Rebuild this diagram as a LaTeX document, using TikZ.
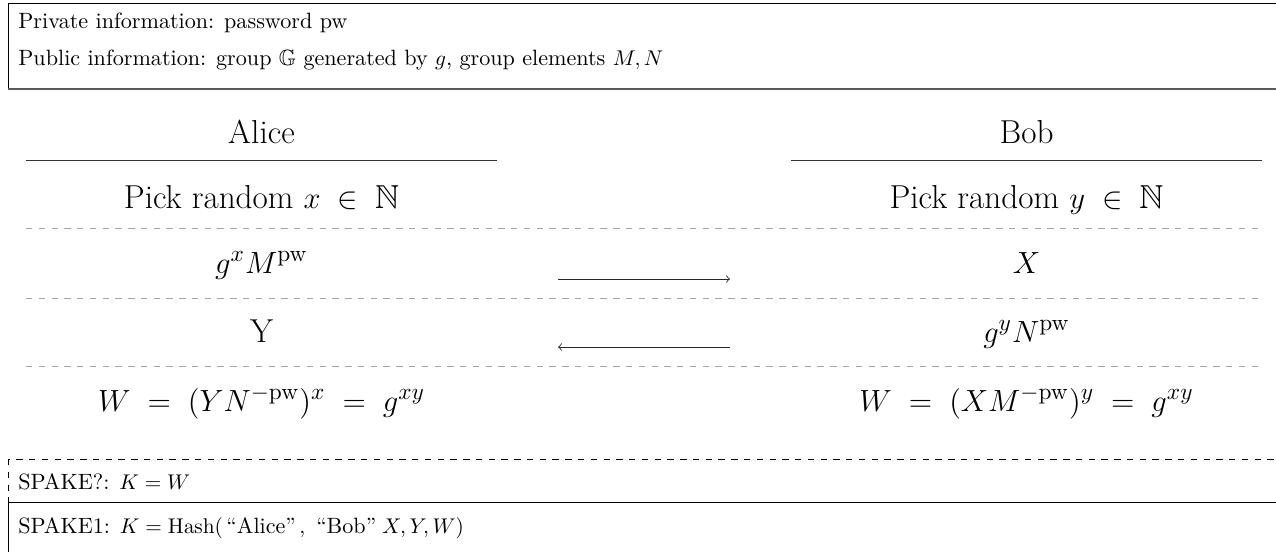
\documentclass[tikz,border=0pt]{standalone}
\usepackage{amsmath,amssymb}
\begin{document}
\begin{tikzpicture}[x=0.47pt,y=-0.47pt,
  info/.style={anchor=base west,inner sep=0pt,font=\fontsize{10.4}{12.5}\selectfont},
  cell/.style={anchor=base,inner sep=0pt,font=\fontsize{15.6}{19}\selectfont},
  rowsep/.style={gray!70,dashed},
  msg/.style={->,black!85}]
\useasboundingbox (0,0) rectangle (1276,552);
\clip (0,0) rectangle (1276,552);
% top information box
\draw (1300,3) -- (8,3) -- (8,89);
\draw[black!65,line width=0.8pt] (8,89) -- (1300,89);
\node[info] (priv) at (18,29) {Private information: password pw};
\node[info] (pub) at (18,66) {Public information: group $\mathbb{G}$ generated by $g$, group elements $M, N$};
% headers
\node[cell] (alice) at (261.5,143) {Alice};
\node[cell] (bob) at (1026.5,143) {Bob};
\draw[black!80] (26,160) -- (497,160);
\draw[black!80] (791,160) -- (1262,160);
% row 1
\node[cell] (a1) at (261.5,208) {Pick random $x\;\in\;\mathbb{N}$};
\node[cell] (b1) at (1026.5,208) {Pick random $y\;\in\;\mathbb{N}$};
\draw[rowsep] (26,228) -- (1262,228);
% row 2
\node[cell] (a2) at (261.5,273) {$g^xM^{\mathrm{pw}}$};
\node[cell] (b2) at (1026.5,273) {$X$};
\coordinate (r2l) at (558,279);
\coordinate (r2r) at (730,279);
\draw[msg] (r2l) -- (r2r);
\draw[rowsep] (26,298) -- (1262,298);
% row 3
\node[cell] (a3) at (261.5,342) {Y};
\node[cell] (b3) at (1026.5,342) {$g^yN^{\mathrm{pw}}$};
\coordinate (r3l) at (558,347);
\coordinate (r3r) at (730,347);
\draw[msg] (r3r) -- (r3l);
\draw[rowsep] (26,366) -- (1262,366);
% row 4
\node[cell] (a4) at (261.5,411) {$W\;=\;(YN^{-\mathrm{pw}})^x\;=\;g^{xy}$};
\node[cell] (b4) at (1026.5,411) {$W\;=\;(XM^{-\mathrm{pw}})^y\;=\;g^{xy}$};
% bottom boxes
\draw (8,502) rectangle (1300,600);
\draw[dashed] (8,459) rectangle (1300,502);
\node[info] (sq) at (18,489) {SPAKE?: $K = W$};
\node[info] (s1) at (18,533) {SPAKE1: $K = \mathrm{Hash}(\,\text{``Alice''}\,,\ \text{``Bob''}\;X, Y, W)$};
\end{tikzpicture}
\end{document}
